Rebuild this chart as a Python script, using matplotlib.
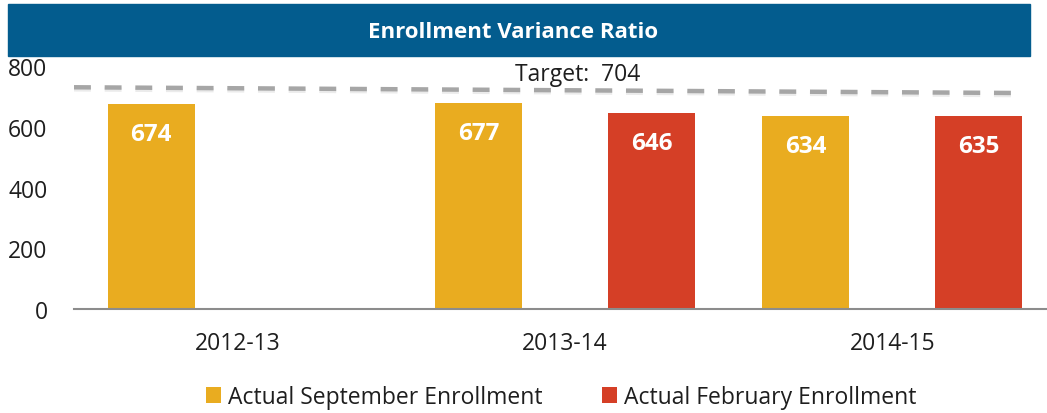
import matplotlib
matplotlib.use("Agg")
import matplotlib.pyplot as plt
import matplotlib.patheffects as pe
from matplotlib.patches import Rectangle
import numpy as np

categories = ["2012-13", "2013-14", "2014-15"]
september = [674, 677, 634]
february = [np.nan, 646, 635]
target_value = 704
target_line = [730, 711]          # drawn line, left end / right end
series_names = ["Actual September Enrollment", "Actual February Enrollment"]
y_ticks = [0, 200, 400, 600, 800]

SEPT_C = "#E9AC20"
FEB_C = "#D53F26"
BANNER_C = "#035C8E"
DASH_C = "#A6A6A6"
TEXT_C = "#1E1E1E"
FONT = ["Open Sans", "DejaVu Sans"]

W, H = 1047, 414
fig = plt.figure(figsize=(W / 100, H / 100), dpi=100)
plt.rcParams["font.family"] = FONT

def fx(px):
    return px / W

def fy(py):
    return 1 - py / H

ax = fig.add_axes([fx(74), fy(310), fx(1056) - fx(74), fy(67) - fy(310)])

x = np.arange(len(categories))
off = 0.2645
bw = 0.266
sept_bars = ax.bar(x - off, september, bw, color=SEPT_C, label=series_names[0], zorder=2)
feb_bars = ax.bar(x + off, february, bw, color=FEB_C, label=series_names[1], zorder=2)

for bars, vals in ((sept_bars, september), (feb_bars, february)):
    for b, v in zip(bars, vals):
        if np.isnan(v):
            continue
        ax.annotate(f"{v:.0f}", (b.get_x() + b.get_width() / 2, v),
                    xytext=(0, -30), textcoords="offset pixels",
                    ha="center", va="center", color="white",
                    fontsize=17.5, fontweight="bold", zorder=4)

# target dashed line
ax.plot([-0.5, 2.4], target_line, color=DASH_C, lw=3.2,
        dashes=(3.8, 3.1), solid_capstyle="butt", dash_capstyle="butt", zorder=3,
        path_effects=[pe.SimpleLineShadow(offset=(0, -1.5), shadow_color="#c8c8c8", alpha=0.35),
                      pe.Normal()])
ax.text(1.04, 733, f"Target:  {target_value}", ha="center", va="bottom",
        fontsize=16.5, color=TEXT_C, zorder=4)

ax.set_xlim(-0.5, 2.5)
ax.set_ylim(0, 800)
ax.set_yticks(y_ticks)
ax.set_xticks(x)
ax.set_xticklabels(categories)
ax.tick_params(axis="both", length=0, labelsize=16.5, labelcolor=TEXT_C)
ax.tick_params(axis="y", pad=19)
ax.tick_params(axis="x", pad=16)
for s in ("top", "right", "left"):
    ax.spines[s].set_visible(False)
ax.spines["bottom"].set_color("#8C8C8C")
ax.spines["bottom"].set_linewidth(1.5)
ax.patch.set_alpha(0)

# title banner
fig.patches.append(Rectangle((fx(8), fy(57)), fx(1030) - fx(8), fy(5) - fy(57),
                             transform=fig.transFigure, color=BANNER_C, zorder=0))
fig.text(fx(513), fy(32), "Enrollment Variance Ratio", ha="center", va="center",
         color="white", fontsize=16, fontweight="bold")

fig.legend(handles=[sept_bars, feb_bars], labels=series_names, loc="center",
           bbox_to_anchor=(fx(561), fy(398)), ncol=2, frameon=False,
           fontsize=16.5, handlelength=0.65, handleheight=0.65, handletextpad=0.3,
           columnspacing=2.6, labelcolor=TEXT_C)

fig.savefig("out.png", dpi=100)
